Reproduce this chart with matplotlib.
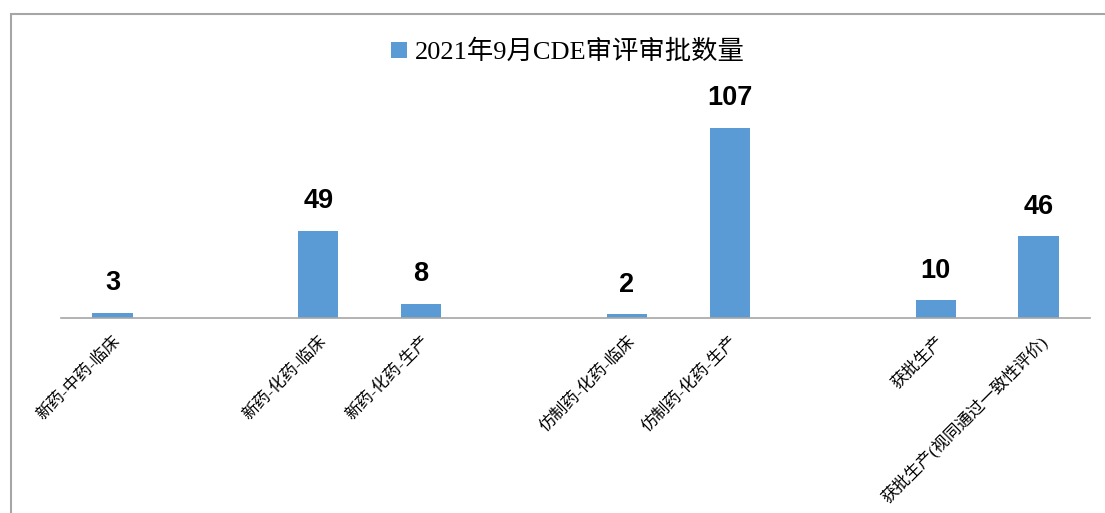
import matplotlib
matplotlib.use("Agg")
import matplotlib.pyplot as plt
from matplotlib.patches import Rectangle

# categories (empty strings are the gaps between groups)
categories = ["新药-中药-临床", "", "新药-化药-临床", "新药-化药-生产", "",
              "仿制药-化药-临床", "仿制药-化药-生产", "", "获批生产",
              "获批生产(视同通过一致性评价)"]
counts = [3, None, 49, 8, None, 2, 107, None, 10, 46]
series_name = "2021年9月CDE审评审批数量"

bar_color = "#5B9BD5"
cjk = ["Liberation Serif", "Noto Sans CJK SC", "DejaVu Sans"]

W, H = 1105, 513
fig = plt.figure(figsize=(W / 100, H / 100), dpi=100)

# outer chart frame (right and bottom edges are cropped away)
fig.patches.append(Rectangle((11 / W, -0.2), 1.5, (H - 14) / H + 0.2,
                             transform=fig.transFigure, fill=False,
                             edgecolor="#a6a6a6", linewidth=1.5))

ymax = 120
px_per_unit = 190 / 107
ax_bottom = (H - 318) / H
ax_height = ymax * px_per_unit / H
ax = fig.add_axes([61 / W, ax_bottom, (1090 - 61) / W, ax_height])

xs = [i for i, v in enumerate(counts) if v is not None]
vals = [v for v in counts if v is not None]
bars = ax.bar(xs, vals, width=0.39, color=bar_color, label=series_name)

for x, v in zip(xs, vals):
    ax.annotate(str(v), (x, v), xytext=(0, 12), textcoords="offset points",
                ha="center", va="bottom", fontsize=19.5, fontweight="bold",
                family="Liberation Sans")

ax.set_xlim(-0.5, len(categories) - 0.5)
ax.set_ylim(0, ymax)
ax.set_yticks([])
ax.set_xticks(range(len(categories)))
ax.set_xticklabels(categories, rotation=45, ha="right", rotation_mode="anchor",
                   fontsize=12, family=cjk)
ax.tick_params(axis="x", length=0, pad=11)
for s in ["top", "right", "left"]:
    ax.spines[s].set_visible(False)
ax.spines["bottom"].set_color("#a6a6a6")
ax.spines["bottom"].set_linewidth(1.2)

fig.legend(handles=[bars], labels=[series_name], loc="center",
           bbox_to_anchor=(568 / W, (H - 52) / H), frameon=False,
           prop={"family": cjk, "size": 19}, handlelength=0.6,
           handleheight=0.6, handletextpad=0.3)

fig.savefig("out.png", dpi=100)
